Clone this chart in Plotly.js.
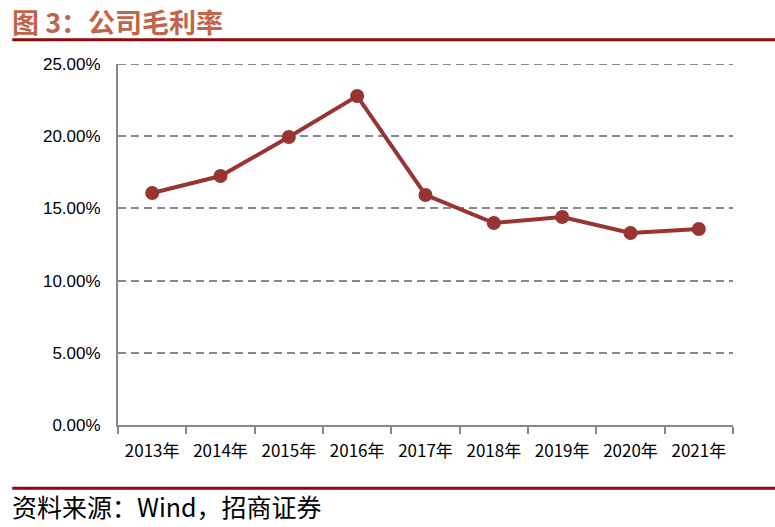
<!DOCTYPE html>
<html><head><meta charset="utf-8">
<script src="https://cdn.plot.ly/plotly-3.0.1.min.js"></script>
<style>html,body{margin:0;padding:0;background:#fff}#c{width:775px;height:527px}</style>
</head><body><div id="c"></div>
<script>
const years = ["2013年","2014年","2015年","2016年","2017年","2018年","2019年","2020年","2021年"];
const grossMargin = [16.07, 17.24, 19.94, 22.78, 15.93, 13.99, 14.40, 13.30, 13.57];
const yTicks = [0, 5, 10, 15, 20, 25];
const yTickText = ["0.00%","5.00%","10.00%","15.00%","20.00%","25.00%"];

const trace = {
  x: years, y: grossMargin, type: "scatter", mode: "lines+markers",
  line: {color: "#983432", width: 4},
  marker: {color: "#983432", size: 14},
  hoverinfo: "skip"
};
const topTick = yTicks[yTicks.length - 1];
const layout = {
  width: 775, height: 527,
  margin: {l: 118, r: 42, t: 64, b: 102},
  paper_bgcolor: "#fff", plot_bgcolor: "#fff",
  showlegend: false,
  xaxis: {
    type: "category", tickson: "boundaries", ticks: "outside", ticklen: 7, tickcolor: "#888", tickwidth: 2,
    showline: true, linecolor: "#888", linewidth: 2, showgrid: false,
    ticklabelstandoff: 10,
    tickfont: {family: "Noto Sans CJK SC, sans-serif", size: 17, color: "#000"},
    range: [-0.5, 8.5], fixedrange: true
  },
  yaxis: {
    range: [0, topTick], tickvals: yTicks, ticktext: yTickText,
    showline: true, linecolor: "#888", linewidth: 2,
    showgrid: true, gridcolor: "#888", griddash: "8px,5px", gridwidth: 2,
    zeroline: false, ticks: "outside", ticklen: 12, tickcolor: "rgba(0,0,0,0)",
    tickfont: {family: "Liberation Sans, Arial, sans-serif", size: 17, color: "#000"},
    fixedrange: true
  },
  shapes: [
    {type: "line", xref: "paper", yref: "y", x0: 0, x1: 1, y0: topTick, y1: topTick, layer: "below",
     line: {color: "#888", width: 2, dash: "8px,5px"}},
    {type: "line", xref: "paper", yref: "paper", x0: -0.172, x1: 1.07, y0: 1.067, y1: 1.067,
     line: {color: "#8B0A0A", width: 3}},
    {type: "line", xref: "paper", yref: "paper", x0: -0.172, x1: 1.07, y0: -0.175, y1: -0.175,
     line: {color: "#8B0A0A", width: 3}}
  ],
  annotations: [
    {text: "<b>图 3：公司毛利率</b>", xref: "paper", yref: "paper", x: -0.175, y: 1.118,
     xanchor: "left", yanchor: "middle", showarrow: false,
     font: {family: "Noto Sans CJK SC, sans-serif", size: 27, color: "#C0644A"}},
    {text: "资料来源：Wind，招商证券", xref: "paper", yref: "paper", x: -0.175, y: -0.225,
     xanchor: "left", yanchor: "middle", showarrow: false,
     font: {family: "Noto Sans CJK SC, sans-serif", size: 25, color: "#000"}}
  ]
};
Plotly.newPlot("c", [trace], layout, {displayModeBar: false, staticPlot: true});
</script></body></html>
